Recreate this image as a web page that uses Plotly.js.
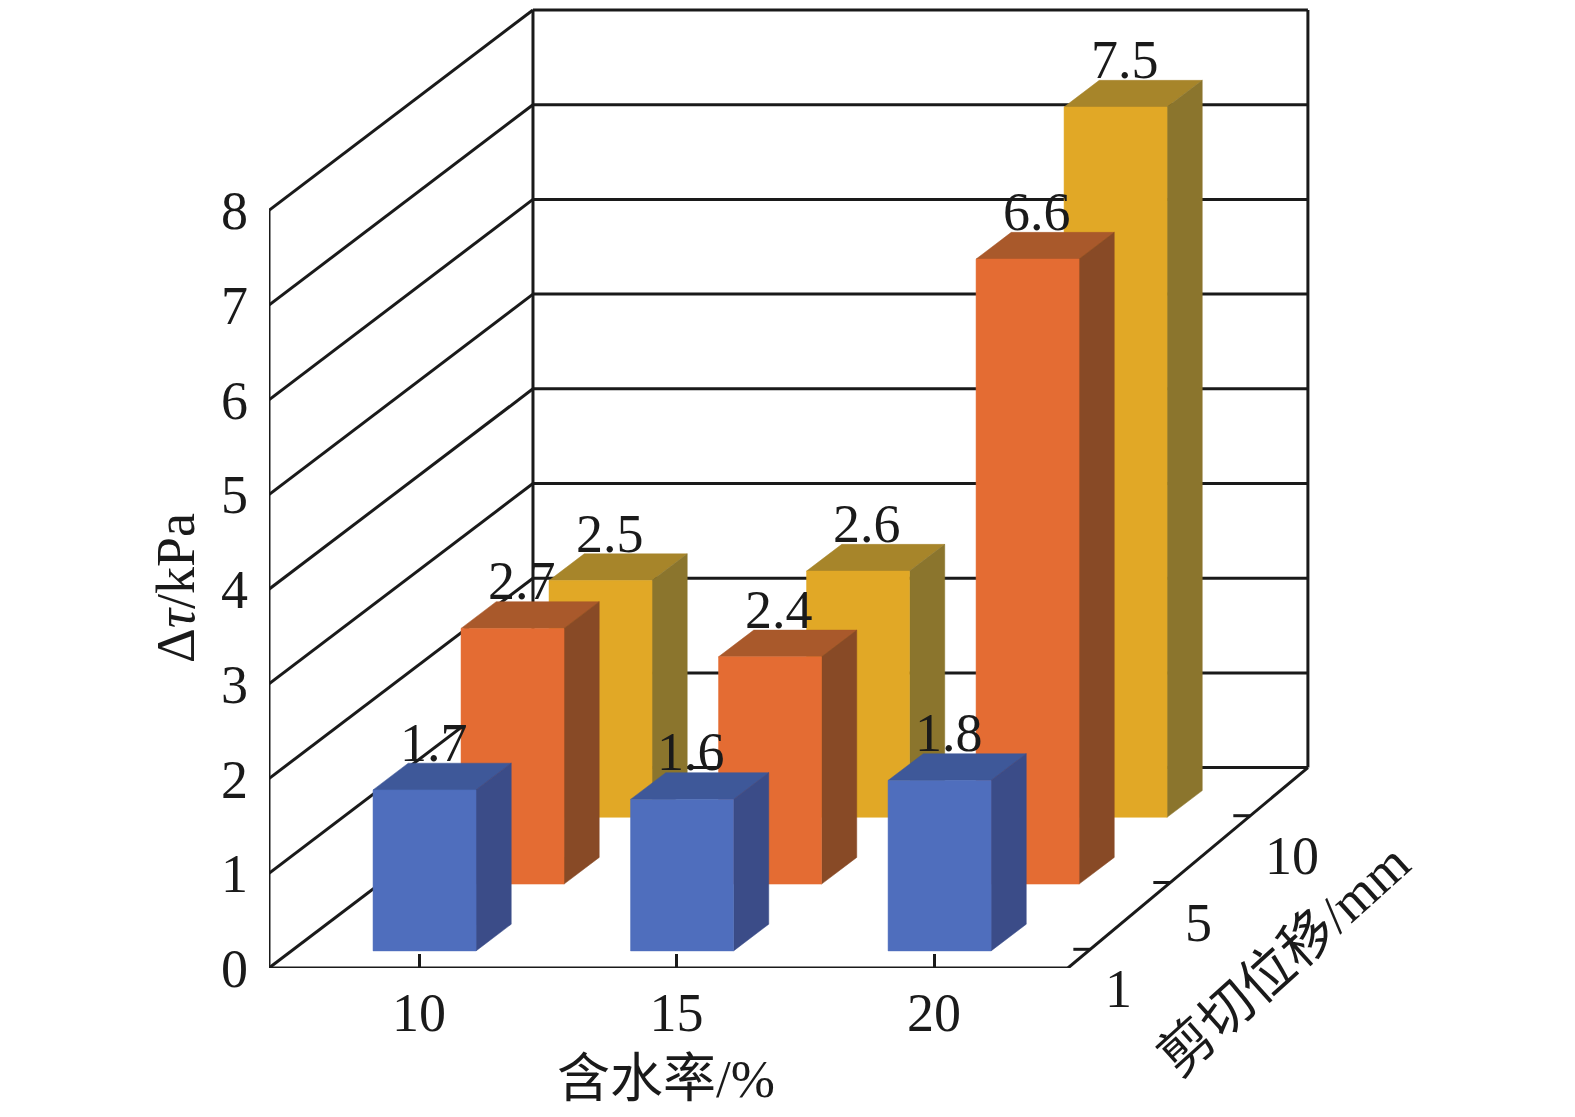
<!DOCTYPE html>
<html>
<head>
<meta charset="utf-8">
<script src="https://cdn.plot.ly/plotly-3.0.1.min.js"></script>
<style>html, body { margin: 0; padding: 0; background: #fff; }</style>
</head>
<body>
<div id="chart" style="width:1575px;height:1117px"></div>
<script>
// Values: Δτ (kPa) per moisture content, one row per shear displacement.
const moisture = ['10', '15', '20'];       // 含水率/%
const displacement = ['1', '5', '10'];     // 剪切位移/mm, front row to back row
const dTau1mm = [1.7, 1.6, 1.8];
const dTau5mm = [2.7, 2.4, 6.6];
const dTau10mm = [2.5, 2.6, 7.5];
const yTicks = [0, 1, 2, 3, 4, 5, 6, 7, 8];

const series = [dTau1mm, dTau5mm, dTau10mm];
const colors = [
    { front: '#4f6ebd', top: '#3e5899', side: '#3b4c88' },
    { front: '#e46c33', top: '#a9592b', side: '#884a26' },
    { front: '#e1a826', top: '#a7852a', side: '#8b752d' }
];

const FONT = 'Liberation Serif, Noto Sans CJK SC, serif';
const INK = '#1a1a1a';

// Oblique projection: x in category steps, y in kPa, d in depth rows.
const DX = 0.3417, DY = 0.7054;
const proj = (c, v, d) => [c + d * DX, v + d * DY];

// Box extents (category units), depth in rows.
const LEFT = -0.5825, RIGHT = 2.52, DEPTH = 3, RIGHT_SKEW = 0.909;
const YMAX = yTicks[yTicks.length - 1];
const rightEdge = d => [RIGHT + d * DX * RIGHT_SKEW, d * DY];

// Bar geometry in category / row units.
const BAR_SHIFT = -0.066, BAR_W = 0.4, BAR_FRONT = 0.256, BAR_DEPTH = 0.4;

const traces = [];

// Walls and floor as one line trace with gaps.
const lx = [], ly = [];
function seg(a, b) { lx.push(a[0], b[0], null); ly.push(a[1], b[1], null); }
const backRight = rightEdge(DEPTH)[0];
yTicks.forEach(v => {
    const back = proj(LEFT, v, DEPTH);
    seg(proj(LEFT, v, 0), back);
    seg(back, [backRight, back[1]]);
});
seg(proj(LEFT, 0, 0), proj(LEFT, YMAX, 0));
seg(proj(LEFT, 0, DEPTH), proj(LEFT, YMAX, DEPTH));
seg([backRight, DEPTH * DY], [backRight, YMAX + DEPTH * DY]);
seg(proj(LEFT, 0, 0), proj(RIGHT, 0, 0));
seg(rightEdge(0), rightEdge(DEPTH));
displacement.forEach((_, r) => {
    const p = rightEdge(r + 0.28);
    seg([p[0] - 0.066, p[1]], p);
});
traces.push({
    x: lx, y: ly, mode: 'lines', type: 'scatter',
    line: { color: INK, width: 3 }, hoverinfo: 'skip', connectgaps: false
});

// Bars, back row first so front rows cover them.
function face(pts, color) {
    traces.push({
        x: pts.map(p => p[0]).concat(pts[0][0]),
        y: pts.map(p => p[1]).concat(pts[0][1]),
        type: 'scatter', mode: 'lines', fill: 'toself',
        fillcolor: color, line: { color: color, width: 0.5 }, hoverinfo: 'skip'
    });
}
const labels = [];
for (let r = series.length - 1; r >= 0; r--) {
    series[r].forEach((v, i) => {
        const cL = i + BAR_SHIFT - BAR_W / 2, cR = cL + BAR_W;
        const d0 = r + BAR_FRONT, d1 = d0 + BAR_DEPTH;
        face([proj(cL, v, d0), proj(cR, v, d0), proj(cR, v, d1), proj(cL, v, d1)], colors[r].top);
        face([proj(cR, 0, d0), proj(cR, 0, d1), proj(cR, v, d1), proj(cR, v, d0)], colors[r].side);
        face([proj(cL, 0, d0), proj(cR, 0, d0), proj(cR, v, d0), proj(cL, v, d0)], colors[r].front);
        const top = proj(i + BAR_SHIFT, v, d0);
        labels.push({
            x: top[0], y: top[1], xshift: 9, yshift: 47, text: v.toFixed(1),
            showarrow: false, xanchor: 'center', yanchor: 'middle',
            font: { family: FONT, size: 54, color: INK }
        });
    });
}

// Depth axis tick labels.
displacement.forEach((t, r) => {
    const p = rightEdge(r + 0.28);
    labels.push({
        x: p[0], y: p[1], xshift: 13, yshift: -40, text: t, showarrow: false,
        xanchor: 'left', yanchor: 'middle', font: { family: FONT, size: 54, color: INK }
    });
});

// Axis titles (outside the axis ranges, so placed in paper coordinates).
labels.push(
    { xref: 'paper', yref: 'paper', x: -0.0712, y: 0.3926, text: 'Δ<i>τ</i>/kPa',
      textangle: -90, showarrow: false, xanchor: 'center', yanchor: 'middle',
      font: { family: FONT, size: 54, color: INK } },
    { xref: 'paper', yref: 'paper', x: 0.304, y: -0.1147, text: '含水率/%',
      showarrow: false, xanchor: 'center', yanchor: 'middle',
      font: { family: FONT, size: 53, color: INK } },
    { x: 3.36, y: 0.08, text: '剪切位移/mm', textangle: -42, showarrow: false,
      xanchor: 'center', yanchor: 'middle', font: { family: FONT, size: 54, color: INK } }
);

Plotly.newPlot('chart', traces, {
    width: 1575, height: 1117, autosize: false,
    margin: { l: 269, r: 0, t: 0, b: 149 },
    paper_bgcolor: '#ffffff', plot_bgcolor: '#ffffff',
    showlegend: false,
    xaxis: {
        range: [LEFT, 4.489], tickvals: [0, 1, 2], ticktext: moisture,
        ticks: 'inside', ticklen: 14, tickwidth: 3, tickcolor: INK,
        showgrid: false, zeroline: false, showline: false, fixedrange: true,
        tickfont: { family: FONT, size: 54, color: INK }, ticklabelstandoff: 8
    },
    yaxis: {
        range: [0, 10.222], tickvals: yTicks, ticks: '',
        showgrid: false, zeroline: false, showline: false, fixedrange: true,
        tickfont: { family: FONT, size: 54, color: INK }, ticklabelstandoff: 20
    },
    annotations: labels
}, { displayModeBar: false, staticPlot: true });
</script>
</body>
</html>
